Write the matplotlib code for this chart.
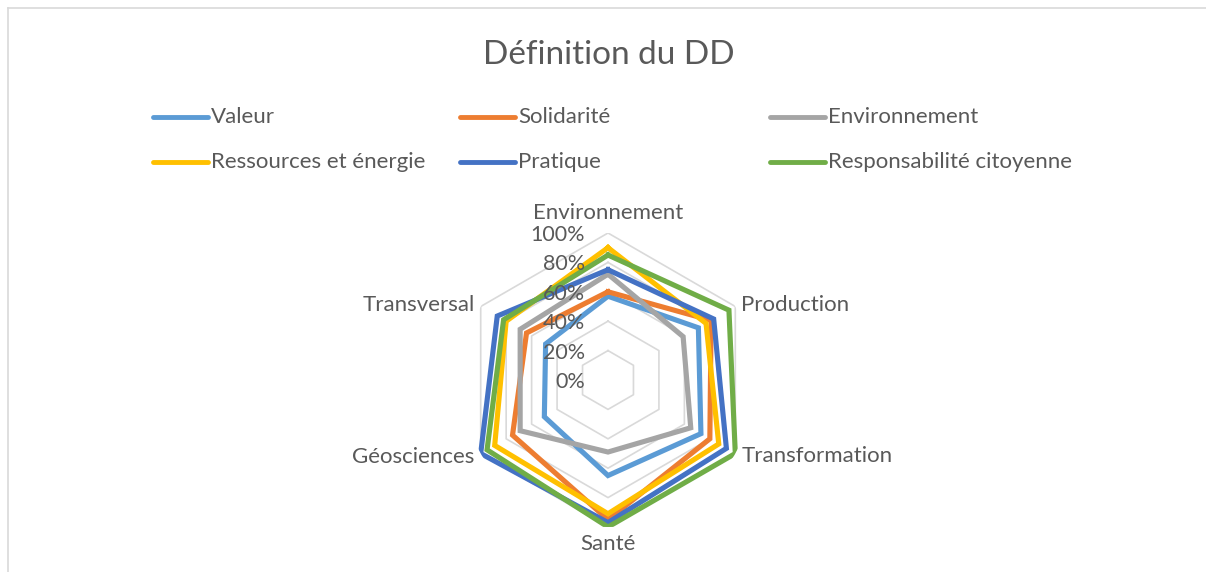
import numpy as np
import matplotlib
matplotlib.use('Agg')
import matplotlib.pyplot as plt
from matplotlib.lines import Line2D
from matplotlib.transforms import offset_copy

categories = ['Environnement', 'Production', 'Transformation', 'Santé', 'Géosciences', 'Transversal']

valeur = [0.57, 0.71, 0.73, 0.65, 0.50, 0.49]
solidarite = [0.60, 0.81, 0.80, 0.95, 0.75, 0.64]
environnement = [0.72, 0.59, 0.65, 0.49, 0.69, 0.69]
ressources = [0.90, 0.77, 0.87, 0.91, 0.89, 0.80]
pratique = [0.75, 0.83, 0.93, 0.97, 1.00, 0.87]
responsabilite = [0.85, 0.95, 1.00, 1.00, 0.95, 0.82]

series_names = ['Valeur', 'Solidarité', 'Environnement',
                'Ressources et énergie', 'Pratique', 'Responsabilité citoyenne']
series_values = [valeur, solidarite, environnement, ressources, pratique, responsabilite]
colors = ['#5B9BD5', '#ED7D31', '#A5A5A5', '#FFC000', '#4472C4', '#70AD47']

levels = [0.2, 0.4, 0.6, 0.8, 1.0]
tick_levels = [0.0, 0.2, 0.4, 0.6, 0.8, 1.0]

plt.rcParams['font.family'] = ['Lato', 'DejaVu Sans']
txt = '#595959'

W, H = 1206, 572
fig = plt.figure(figsize=(W / 100, H / 100), dpi=100)
fig.patch.set_facecolor('white')

# chart border (top and left visible)
fig.add_artist(Line2D([8 / W, 1], [1 - 8 / H, 1 - 8 / H], transform=fig.transFigure, color='#D9D9D9', lw=1.2))
fig.add_artist(Line2D([8 / W, 8 / W], [0, 1 - 8 / H], transform=fig.transFigure, color='#D9D9D9', lw=1.2))

fig.text(609 / W, 1 - 55 / H, 'Définition du DD', ha='center', va='center', fontsize=24, color=txt)

# legend, 3 columns x 2 rows
col_x = [153, 460, 770]
row_y = [117, 162]
for i, (name, c) in enumerate(zip(series_names, colors)):
    x0 = col_x[i % 3]
    y0 = row_y[i // 3]
    fig.add_artist(Line2D([x0 / W, (x0 + 55) / W], [1 - y0 / H, 1 - y0 / H],
                          transform=fig.transFigure, color=c, lw=3.5, solid_capstyle='round'))
    fig.text((x0 + 58) / W, 1 - y0 / H, name, ha='left', va='center', fontsize=16, color=txt)

# radar
cx, cy, r = 608, 380, 147
ax = fig.add_axes([(cx - r) / W, (H - cy - r) / H, 2 * r / W, 2 * r / H], projection='polar')
ax.set_theta_offset(np.pi / 2)
ax.set_theta_direction(-1)
ax.set_ylim(0, 1)
ax.grid(False)
ax.spines['polar'].set_visible(False)
ax.set_xticks([])
ax.set_yticks([])
ax.patch.set_alpha(0)

angles = np.linspace(0, 2 * np.pi, len(categories), endpoint=False)
closed = np.concatenate([angles, angles[:1]])

for lv in levels:
    ax.plot(closed, [lv] * len(closed), color='#D9D9D9', lw=1.2, zorder=1)

for vals, c in zip(series_values, colors):
    v = np.concatenate([vals, vals[:1]])
    ax.plot(closed, v, color=c, lw=3.7, solid_joinstyle='miter', zorder=3)

# radial tick labels along the top spoke
tick_tr = offset_copy(ax.transData, fig=fig, x=-23, y=-2, units='dots')
for lv in tick_levels:
    ax.text(0, lv, f'{int(round(lv * 100))}%', transform=tick_tr,
            ha='right', va='center', fontsize=15.5, color=txt, zorder=4)

# category labels
for a, name in zip(angles, categories):
    s, c = np.sin(a), np.cos(a)
    if abs(s) < 0.01:
        ha = 'center'
        va = 'bottom' if c > 0 else 'top'
        dx, dy = 0, (10 if c > 0 else -7)
    else:
        ha = 'left' if s > 0 else 'right'
        va = 'center'
        dx, dy = (6 if s > 0 else -6), (2 if c > 0 else -3)
    tr = offset_copy(ax.transData, fig=fig, x=dx, y=dy, units='dots')
    ax.text(a, 1.0, name, transform=tr, ha=ha, va=va, fontsize=16, color=txt)

fig.savefig('out.png', dpi=100)
